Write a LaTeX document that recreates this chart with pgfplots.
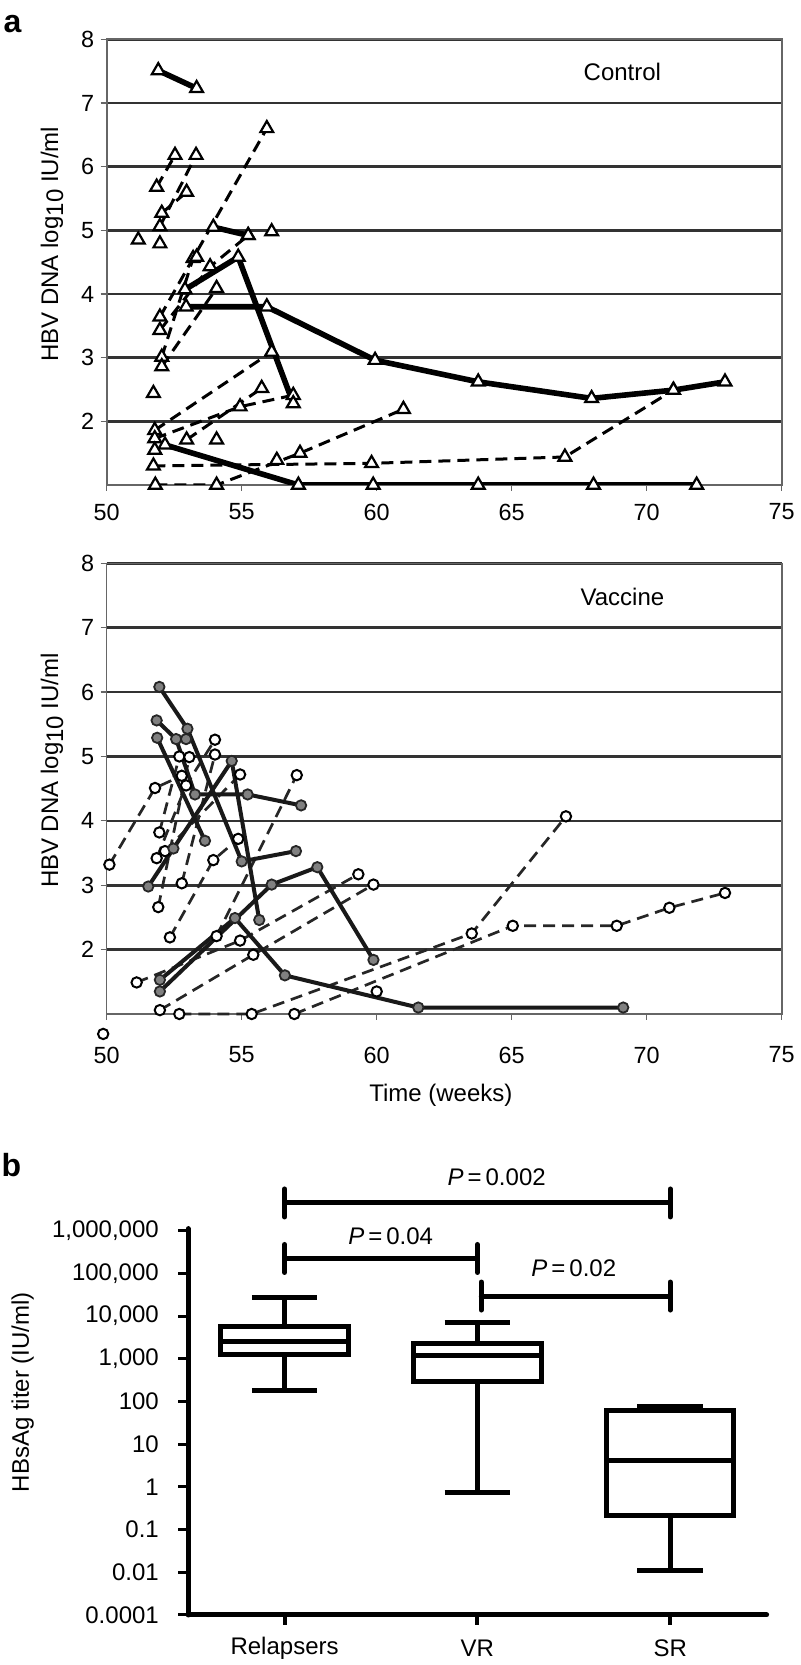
\documentclass[border=0pt]{standalone}
\usepackage{fontspec}
\setmainfont{Liberation Sans}
\usepackage{pgfplots}
\pgfplotsset{compat=1.18}
\usepgfplotslibrary{statistics}
\pgfplotsset{
  solA/.style={black, line width=2.8pt, mark=triangle*, mark size=3.7pt, mark options={solid, draw=black, fill=white, line width=1.1pt}},
  dashA/.style={black, line width=1.5pt, dash pattern=on 6pt off 3.5pt, mark=triangle*, mark size=3.7pt, mark options={solid, draw=black, fill=white, line width=1.1pt}},
  onlyA/.style={only marks, mark=triangle*, mark size=3.7pt, mark options={draw=black, fill=white, line width=1.1pt}},
  solB/.style={black!90, line width=2pt, mark=*, mark size=2.6pt, mark options={solid, draw=black!85, fill=black!50, line width=0.9pt}},
  dashB/.style={black!85, line width=1.35pt, dash pattern=on 6pt off 3.5pt, mark=*, mark size=2.6pt, mark options={solid, draw=black, fill=white, line width=1pt}},
  onlyB/.style={only marks, mark=*, mark size=2.6pt, mark options={draw=black, fill=white, line width=1pt}},
  panelA/.style={
    scale only axis, width=337.5pt, anchor=south west,
    xmin=50, xmax=75, ymin=1, ymax=8,
    xtick={50,55,...,75}, ytick={2,3,...,8},
    ymajorgrids, grid style={black!80, line width=1.3pt},
    axis line style={black!60, line width=0.8pt},
    tick align=outside, major tick length=3pt, tick style={black!60, line width=0.6pt},
    xtick pos=bottom, ytick pos=left,
    ticklabel style={font=\fontsize{11.7}{13}\selectfont},
    /pgf/number format/assume math mode=true,
    yticklabel style={anchor=center, xshift=-6.5pt},
    every axis y label/.style={at={(axis description cs:-0.081,0.54)}, rotate=90, anchor=center, font=\fontsize{12}{14}\selectfont},
    ylabel={HBV DNA log\raisebox{-0.4ex}{10} IU/ml},
  },
}
\begin{document}
\begin{tikzpicture}
\useasboundingbox (0,0) rectangle (400.5pt,832.5pt);
\node[font=\bfseries\fontsize{16}{18}\selectfont] at (6.25pt,820.5pt) {a};
\node[font=\bfseries\fontsize{16}{18}\selectfont] at (5.75pt,250pt) {b};

% ---------------- Control ----------------
\begin{axis}[panelA, at={(53.35pt,590pt)}, height=222.85pt,
  xticklabel style={anchor=center, yshift=-10.5pt}]
\addplot[solA] coordinates {(51.91,7.51) (53.33,7.23)};
\addplot[solA] coordinates {(53.95,5.05) (55.24,4.92)};
\addplot[dashA] coordinates {(51.85,5.68) (52.53,6.18)};
\addplot[dashA] coordinates {(51.97,5.06) (53.31,6.18)};
\addplot[dashA] coordinates {(52.04,5.27) (52.96,5.6)};
\addplot[dashA] coordinates {(51.97,3.64) (55.93,6.6)};
\addplot[dashA] coordinates {(52.04,3.01) (53.2,4.56)};
\addplot[dashA] coordinates {(51.97,3.43) (53.83,4.43) (55.24,4.92)};
\addplot[dashA] coordinates {(52.04,2.86) (54.07,4.09)};
\addplot[dashA] coordinates {(51.78,1.86) (56.11,3.09)};
\addplot[dashA] coordinates {(51.78,1.73) (54.94,2.23) (56.91,2.41)};
\addplot[dashA] coordinates {(52.96,1.71) (55.74,2.52)};
\addplot[dashA] coordinates {(51.73,1.3) (59.81,1.34) (66.97,1.44) (70.99,2.49)};
\addplot[dashA] coordinates {(51.8,1.0) (54.07,1.0) (57.16,1.5) (60.99,2.19)};
\addplot[solA] coordinates {(52.9,4.07) (54.87,4.58) (56.91,2.28)};
\addplot[solA] coordinates {(52.94,3.8) (55.93,3.8) (59.94,2.96) (63.76,2.62) (67.96,2.36) (70.99,2.49) (72.9,2.62)};
\addplot[solA] coordinates {(52.16,1.63) (57.1,1.0) (59.87,1.0) (63.76,1.0) (68.03,1.0) (71.85,1.0)};
\addplot[onlyA] coordinates {(51.17,4.85) (51.97,4.79) (56.11,4.98) (51.73,2.44) (51.78,1.55) (54.07,1.71) (56.3,1.39) (53.33,4.58)};
\node[font=\fontsize{12}{14}\selectfont] at (axis cs:69.1,7.48) {Control};
\end{axis}

% ---------------- Vaccine ----------------
\begin{axis}[panelA, at={(53.35pt,325.5pt)}, height=225.35pt, clip=false,
  xticklabel style={anchor=center, yshift=-17.5pt},
  xlabel={Time (weeks)},
  every axis x label/.style={at={(axis description cs:0.495,-0.18)}, anchor=center, font=\fontsize{12}{14}\selectfont}]
\addplot[dashB] coordinates {(50.1,3.32) (51.79,4.51) (52.78,4.7)};
\addplot[dashB] coordinates {(51.85,3.42) (52.94,4.55) (54.01,5.26)};
\addplot[dashB] coordinates {(51.95,3.82) (52.69,5.0)};
\addplot[dashB] coordinates {(52.16,3.53) (54.94,4.72)};
\addplot[dashB] coordinates {(51.91,2.66) (53.06,4.99)};
\addplot[dashB] coordinates {(52.78,3.03) (54.01,5.03)};
\addplot[dashB] coordinates {(52.34,2.19) (53.95,3.39) (54.87,3.72)};
\addplot[dashB] coordinates {(54.07,2.21) (57.04,4.71)};
\addplot[dashB] coordinates {(51.11,1.49) (54.94,2.14) (59.32,3.17)};
\addplot[dashB] coordinates {(51.97,1.06) (55.43,1.92) (59.88,3.01)};
\addplot[dashB] coordinates {(52.69,1.0) (55.37,1.0) (63.52,2.25) (67.01,4.07)};
\addplot[dashB] coordinates {(56.95,1.0) (65.04,2.37) (68.89,2.37) (70.84,2.65) (72.9,2.88)};
\addplot[onlyB] coordinates {(60.0,1.35) (49.87,0.69)};
\addplot[solB] coordinates {(51.95,6.08) (52.99,5.43) (55.0,3.37) (57.01,3.53)};
\addplot[solB] coordinates {(51.85,5.56) (52.57,5.27) (53.27,4.41) (55.22,4.41) (57.2,4.24)};
\addplot[solB] coordinates {(51.87,5.29) (53.64,3.69)};
\addplot[solB] coordinates {(51.54,2.98) (52.47,3.57) (54.63,4.93) (55.65,2.46)};
\addplot[solB] coordinates {(51.97,1.35) (56.11,3.01) (57.8,3.28) (59.88,1.84)};
\addplot[solB] coordinates {(51.97,1.53) (54.75,2.49) (56.6,1.6) (61.54,1.1) (69.13,1.1)};
\addplot[solB, only marks] coordinates {(52.94,5.27)};
\node[font=\fontsize{12}{14}\selectfont] at (axis cs:69.1,7.48) {Vaccine};
\end{axis}

% ---------------- Panel b ----------------
\begin{axis}[scale only axis, anchor=south west, at={(94.1pt,25pt)},
  width=289.2pt, height=193.2pt,
  xmin=-0.5, xmax=2.5, ymin=-3, ymax=6.05,
  axis x line*=bottom, axis y line*=left,
  axis line style={black, line width=2.5pt, line cap=round},
  xtick={0,1,2}, xticklabels={Relapsers,VR,SR},
  ytick={-3,-2,-1,0,1,2,3,4,5,6},
  yticklabels={0.0001,0.01,0.1,1,10,100,{1,000},{10,000},{100,000},{1,000,000}},
  tick align=outside, major tick length=5pt,
  xtick style={black, line width=2pt},
  ytick style={black, line width=1.5pt},
  ticklabel style={font=\fontsize{12}{14}\selectfont},
  xticklabel style={anchor=center, yshift=-11.5pt},
  yticklabel style={anchor=east, inner sep=0pt, xshift=-9.5pt},
  ylabel={HBsAg titer (IU/ml)},
  every axis y label/.style={at={(axis description cs:-0.286,0.577)}, rotate=90, anchor=center, font=\fontsize{12}{14}\selectfont},
  boxplot/draw direction=y,
  clip=false]
\addplot[black, line width=2.5pt, solid, boxplot prepared={lower whisker=2.25, lower quartile=3.09, median=3.40, upper quartile=3.75, upper whisker=4.43, draw position=0, box extend=0.66, whisker extend=0.34}] coordinates {};
\addplot[black, line width=2.5pt, solid, boxplot prepared={lower whisker=-0.13, lower quartile=2.47, median=3.07, upper quartile=3.37, upper whisker=3.85, draw position=1, box extend=0.66, whisker extend=0.34}] coordinates {};
\addplot[black, line width=2.5pt, solid, boxplot prepared={lower whisker=-1.95, lower quartile=-0.66, median=0.61, upper quartile=1.78, upper whisker=1.88, draw position=2, box extend=0.66, whisker extend=0.34}] coordinates {};
\draw[line width=2.5pt, line cap=round] (axis cs:0,6.65) -- (axis cs:2,6.65);
\draw[line width=2.5pt, line cap=round] ([yshift=-7pt]axis cs:0,6.65) -- ([yshift=7pt]axis cs:0,6.65);
\draw[line width=2.5pt, line cap=round] ([yshift=-7pt]axis cs:2,6.65) -- ([yshift=7pt]axis cs:2,6.65);
\draw[line width=2.5pt, line cap=round] (axis cs:0,5.35) -- (axis cs:1,5.35);
\draw[line width=2.5pt, line cap=round] ([yshift=-7pt]axis cs:0,5.35) -- ([yshift=7pt]axis cs:0,5.35);
\draw[line width=2.5pt, line cap=round] ([yshift=-7pt]axis cs:1,5.35) -- ([yshift=7pt]axis cs:1,5.35);
\draw[line width=2.5pt, line cap=round] (axis cs:1.02,4.47) -- (axis cs:2,4.47);
\draw[line width=2.5pt, line cap=round] ([yshift=-7pt]axis cs:1.02,4.47) -- ([yshift=7pt]axis cs:1.02,4.47);
\draw[line width=2.5pt, line cap=round] ([yshift=-7pt]axis cs:2,4.47) -- ([yshift=7pt]axis cs:2,4.47);
\node[font=\fontsize{12}{14}\selectfont] at (axis cs:1.1,7.26) {\textit{P}\,=\,0.002};
\node[font=\fontsize{12}{14}\selectfont] at (axis cs:0.55,5.88) {\textit{P}\,=\,0.04};
\node[font=\fontsize{12}{14}\selectfont] at (axis cs:1.5,5.12) {\textit{P}\,=\,0.02};
\end{axis}
\end{tikzpicture}
\end{document}
